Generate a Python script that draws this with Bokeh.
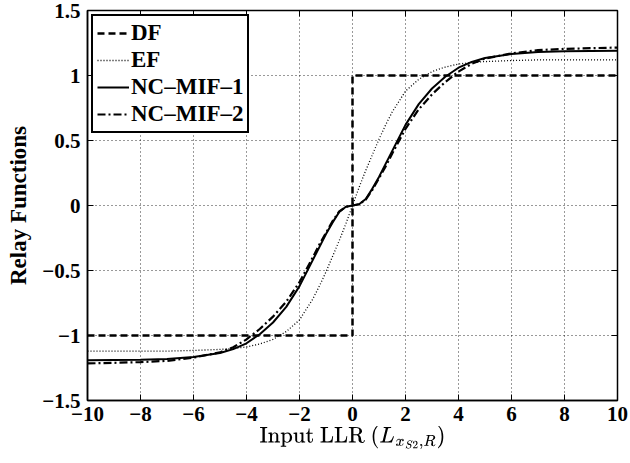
from bokeh.plotting import figure
from bokeh.models import LinearAxis, Range1d, FixedTicker, Legend, LegendItem
from bokeh.embed import file_html
from bokeh.resources import INLINE

# data; curves are odd-symmetric
x_pos = [0, 0.25, 0.5, 0.75, 1, 1.25, 1.5, 2, 2.5, 3, 3.5, 4, 4.5, 5, 6, 7, 8, 10]
ncmif1_pos = [0, 0.01, 0.05, 0.13, 0.22, 0.32, 0.42, 0.62, 0.78, 0.90, 0.99, 1.06, 1.105, 1.135, 1.165, 1.18, 1.187, 1.19]
ncmif2_pos = [0, 0.01, 0.045, 0.12, 0.21, 0.30, 0.40, 0.59, 0.74, 0.855, 0.95, 1.03, 1.09, 1.13, 1.17, 1.195, 1.205, 1.215]
ef_pos = [0, 0.14, 0.27, 0.39, 0.51, 0.62, 0.72, 0.88, 0.97, 1.03, 1.065, 1.088, 1.10, 1.107, 1.115, 1.12, 1.12, 1.12]
df_x = [-10, 0, 0, 10]
df_y = [-1, -1, 1, 1]
x_ticks = [-10, -8, -6, -4, -2, 0, 2, 4, 6, 8, 10]
y_ticks = [-1.5, -1, -0.5, 0, 0.5, 1, 1.5]


def mirror(xs, ys):
    xx = [-v for v in xs[:0:-1]] + list(xs)
    yy = [-v for v in ys[:0:-1]] + list(ys)
    return xx, yy


xe, ye = mirror(x_pos, ef_pos)
x1, y1 = mirror(x_pos, ncmif1_pos)
x2, y2 = mirror(x_pos, ncmif2_pos)

FONT = "Liberation Serif"

p = figure(width=630, height=463, output_backend="svg", toolbar_location=None,
           x_range=Range1d(-10, 10), y_range=Range1d(-1.5, 1.5),
           min_border_left=87, min_border_right=13, min_border_top=10, min_border_bottom=63)
p.outline_line_color = "black"
p.outline_line_width = 1.5
p.background_fill_color = "white"
p.border_fill_color = "white"

for ax in [p.xaxis[0], p.yaxis[0]]:
    ax.major_label_text_font = FONT
    ax.major_label_text_font_style = "bold"
    ax.major_label_text_font_size = "21px"
    ax.major_label_text_color = "black"
    ax.major_tick_in = 6
    ax.major_tick_out = 0
    ax.minor_tick_line_color = None
    ax.axis_line_color = "black"
    ax.axis_line_width = 1.5
    ax.major_tick_line_color = "black"
    ax.axis_label_text_color = "black"

p.xaxis[0].ticker = FixedTicker(ticks=x_ticks)
p.yaxis[0].ticker = FixedTicker(ticks=y_ticks)
p.xaxis[0].major_label_overrides = {t: str(t).replace("-", "\u2212") for t in x_ticks}
p.yaxis[0].major_label_overrides = {t: ("%g" % t).replace("-", "\u2212") for t in y_ticks}
p.xaxis[0].major_label_standoff = 6
p.yaxis[0].major_label_standoff = 7

p.xaxis[0].axis_label = r"$$\text{Input LLR }(L_{x_{S2},R})$$"
p.xaxis[0].axis_label_text_font = FONT
p.xaxis[0].axis_label_text_font_size = "22px"
p.xaxis[0].axis_label_text_font_style = "normal"
p.xaxis[0].axis_label_standoff = 2
p.yaxis[0].axis_label = "Relay Functions"
p.yaxis[0].axis_label_text_font = FONT
p.yaxis[0].axis_label_text_font_size = "23px"
p.yaxis[0].axis_label_text_font_style = "bold"
p.yaxis[0].axis_label_standoff = 8

top = LinearAxis(ticker=FixedTicker(ticks=x_ticks), major_label_text_font_size="0px",
                 major_tick_in=6, major_tick_out=0, minor_tick_line_color=None,
                 axis_line_color="black", major_label_standoff=0)
right = LinearAxis(ticker=FixedTicker(ticks=y_ticks), major_label_text_font_size="0px",
                   major_tick_in=6, major_tick_out=0, minor_tick_line_color=None,
                   axis_line_color="black", major_label_standoff=0)
top.major_label_text_color = None
right.major_label_text_color = None
p.add_layout(top, "above")
p.add_layout(right, "right")

for g in [p.xgrid[0], p.ygrid[0]]:
    g.grid_line_color = "black"
    g.grid_line_dash = "1 3"
    g.grid_line_width = 1
    g.grid_line_alpha = 0.8
p.xgrid[0].ticker = FixedTicker(ticks=x_ticks)
p.ygrid[0].ticker = FixedTicker(ticks=y_ticks)

r_df = p.line(df_x, df_y, line_color="black", line_width=2.5, line_dash="7 4")
r_ef = p.line(xe, ye, line_color="black", line_width=1.3, line_dash="1 2")
r_n1 = p.line(x1, y1, line_color="black", line_width=2)
r_n2 = p.line(x2, y2, line_color="black", line_width=2.2, line_dash="8 3 2 3")

legend = Legend(items=[
    LegendItem(label="DF", renderers=[r_df]),
    LegendItem(label="EF", renderers=[r_ef]),
    LegendItem(label="NC\u2013MIF\u20131", renderers=[r_n1]),
    LegendItem(label="NC\u2013MIF\u20132", renderers=[r_n2]),
], location="top_left")
legend.label_text_font = FONT
legend.label_text_font_style = "bold"
legend.label_text_font_size = "23px"
legend.label_text_color = "black"
legend.label_standoff = 2
legend.glyph_width = 32
legend.glyph_height = 20
legend.label_height = 20
legend.spacing = 1
legend.padding = 4
legend.margin = 4
legend.border_line_color = "black"
legend.border_line_alpha = 1
legend.border_line_width = 2
legend.background_fill_alpha = 1
p.add_layout(legend)

open("out.html", "w").write(file_html(p, INLINE))
